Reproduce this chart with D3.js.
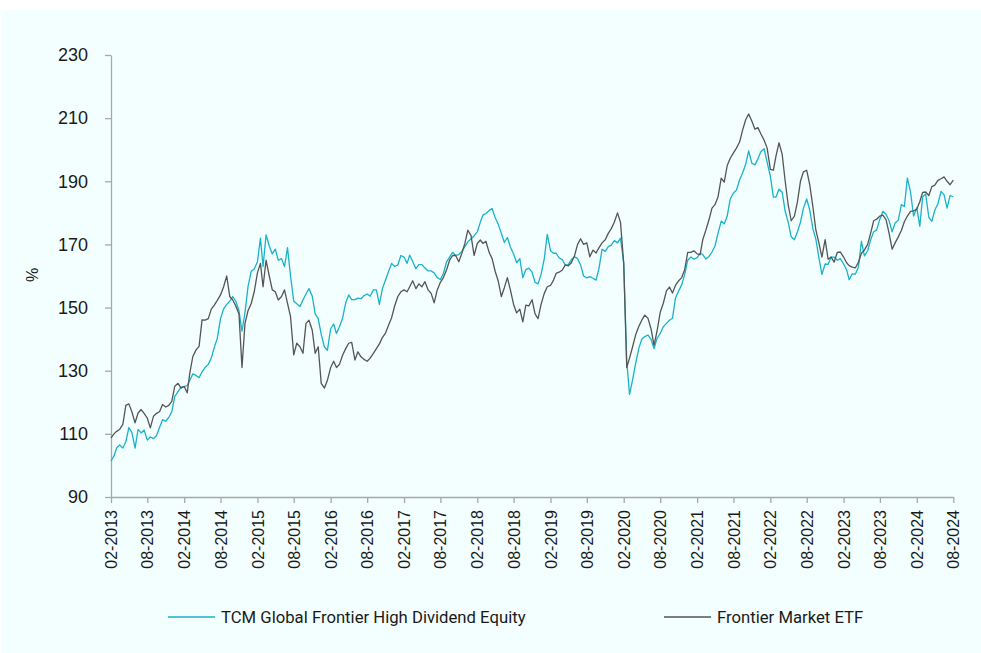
<!DOCTYPE html>
<html>
<head>
  <meta charset="utf-8" />
  <title>TCM vs Frontier Market ETF</title>
  <script type="text/javascript" src="https://cdn.jsdelivr.net/npm/d3@7"></script>
  <style type="text/css">
  body {
    margin: 0;
    background: #fff;
  }

  .axis path,
  .axis line {
    stroke: #a8a8a8;
    stroke-width: 1.3px;
  }

  .axis text {
    fill: #1a1a1a;
    font-family: "Liberation Sans", Arial, sans-serif;
  }

  .legend text {
    fill: #1a1a1a;
    font-family: Roboto, "Noto Sans", sans-serif;
    font-size: 16.7px;
  }
  </style>
</head>
<body>
  <script type="text/javascript">
    // half-month readings, 02-2013 .. 08-2024
    var tcmValues = [
      101.4,103,105.5,106.5,105.5,107.5,112,110.5,105.5,111.4,110.3,111.2,
      108,109,108.5,109.5,112,114.5,114,115.2,117,121.9,123.4,124.8,
      125,125.3,127,129,128.5,127.8,129.6,131,132,134,137.4,140.3,
      146.5,149.5,151,152,153.5,152,149,142.5,148.5,156.6,161.5,162.2,
      164.5,172,163,173,169.5,167,168.5,165,165.5,163,169,160,
      152,151.2,150.3,152.4,154.3,156,153.7,148,146.5,141.5,137.5,136.5,
      143.3,144.8,141.8,143.9,146.8,151.5,154,152.5,152.5,153,152.8,153.8,
      154.3,153.6,155.6,155.6,151,156,158.8,161.5,164,163,163.5,166.5,
      166,164,166.6,164.6,162.3,163.6,163.6,162.5,161.6,161.6,161,159.5,
      158.9,160.8,164.5,166,167.5,166.5,166.8,167.8,169.3,170.8,171.8,172.7,
      174,177,179.3,179.8,180.7,181.4,178.5,176.5,173.5,170.6,172.2,169.2,
      167,164.2,165.5,159.5,162,162.5,161.2,158,157.5,160.5,165.5,173.2,
      168,167.2,167.2,165.7,165.2,163.4,163.6,165.2,166.1,165.5,163.5,160,
      159.4,159.8,159.3,158.7,162.5,168.5,167.8,169.3,169.8,171.2,170.5,172,
      164,133,122.5,127,132.5,137,140,140.8,141.3,140,137,140.2,
      141.8,143.9,145,146,146.6,153,155.3,157.2,160.5,165,166,165.3,
      165.8,167.2,166.8,165.4,166.2,167.6,169.5,173.5,177.4,176.5,179,184.4,
      186.3,187.2,190.5,192.7,195.4,199.6,195.7,195.2,197.1,199.4,200.3,196,
      191.6,185,185,187.5,186.5,180.5,177,172.4,171.5,174,177,181.5,
      184.4,181,175,171.6,165.8,160.5,163.8,163.7,166,166,165,165.5,
      163.8,162,158.8,160.7,160.6,162.8,171,166.4,168,171.5,174,174.6,
      178,180.5,179.5,177.5,174,176.8,177.7,182.6,182,191,186.5,179,
      181.6,175.8,185,186,178.6,177.3,180.9,182.8,186.8,185.7,181.5,185.5,
      185.1
    ]

    var etfValues = [
      108.7,110,110.8,111.4,113,119,119.5,117,113.5,116.6,117.7,116.5,
      115,111.9,115.6,116.5,117,119.3,118.5,119,120.3,125.1,126,124.5,
      125,123,129.3,134.5,136.6,137.7,146.1,146,146.5,149.5,150.8,152.3,
      154,156.5,160,153.5,152.4,150.5,148,131,145,149,151.3,155,
      161,164,156.6,165,160,155.6,155,152.4,153.5,155.6,151.3,147.1,
      135,138.7,137.6,135.5,145,146,142.9,135.5,137.6,126,124.5,127,
      131,133,131,132,135,137,138.7,139,133.4,136,134.4,133.6,
      133,134,135.5,137,138.5,140.5,142,144.5,146.8,150.5,153.5,155,
      155.6,155,156.6,158.5,156,157.5,156.6,158.2,155.6,154.5,151.5,155.5,
      158,159.5,162,165,166.5,166.5,164.5,167.2,170.3,174.5,172.8,166.5,
      170.3,171.4,170.3,171,167.5,165.5,161.5,158.5,153.5,156.3,159.5,155.6,
      151,148.3,149.5,145.5,150.8,150.5,152.5,148,146.5,151,154.5,156.6,
      157,158.7,160.8,161.2,161.9,163.5,163.2,164.2,166.5,170,171.8,170,
      170.5,166.1,168.2,167.3,169,170.5,171.5,173.5,175,177,180,177,
      164,131,134,137.5,141.5,144,146,147.6,146.6,143.3,138,142.5,
      148.5,151.3,155.3,156.5,154.6,157,158.5,159.5,162,167.5,167.5,168,
      167,166.8,171.5,174.4,177.8,181.5,182.6,185,191,189.7,195,197.3,
      199,200.5,202.5,206.3,209.5,211.3,209,206.5,207,205,203,200.5,
      193.8,193.5,198,202.2,198.5,190,182.5,177.5,179,183.5,190,193,
      193.5,189,182,174.5,170.5,166,171.5,165.3,166,164.4,167.5,167.6,
      166,164.2,163.3,162.8,162.6,164.3,167.2,168.2,170,173.6,177.5,178,
      179,179.3,177.8,173.5,168.5,170.5,172.4,174.4,177.2,179,180.5,180.6,
      181.2,183.5,186.5,186.6,185.5,188.3,188.8,190.3,190.8,191.4,190,188.9,
      190.4
    ]

    var seriesNames = ['TCM Global Frontier High Dividend Equity', 'Frontier Market ETF']
    var seriesColors = ['#1ab1c9', '#555555']
    var yTicks = [90, 110, 130, 150, 170, 190, 210, 230]

    var w = 981,
        h = 653,
        start = new Date(Date.UTC(2013, 1, 1)),
        end = new Date(Date.UTC(2024, 7, 1))

    // one date per reading: 1st and 16th of each month
    function dateAt(i) {
      return d3.utcDay.offset(d3.utcMonth.offset(start, Math.floor(i / 2)), i % 2 ? 15 : 0)
    }

    var x = d3.scaleUtc().domain([start, end]).range([111, 953.3]),
        y = d3.scaleLinear().domain([90, 230]).range([497, 55])

    var svg = d3.select(document.body)
      .append('svg')
      .attr('width', w)
      .attr('height', h)

    svg.append('rect')
      .attr('x', 2)
      .attr('y', 10)
      .attr('width', w - 2)
      .attr('height', h - 10)
      .attr('fill', '#f2fffe')

    // axes
    svg.append('g')
      .attr('class', 'axis')
      .attr('transform', 'translate(0,497)')
      .call(d3.axisBottom(x)
        .tickValues(d3.utcMonth.range(start, d3.utcDay.offset(end, 1), 6))
        .tickFormat(d3.utcFormat('%m-%Y'))
        .tickSize(6)
        .tickSizeOuter(0))
      .selectAll('text')
        .attr('transform', 'rotate(-90)')
        .attr('x', -13)
        .attr('y', 0)
        .attr('dy', '0.35em')
        .style('text-anchor', 'end')
        .style('font-size', '16px')

    svg.append('g')
      .attr('class', 'axis')
      .attr('transform', 'translate(111,0)')
      .call(d3.axisLeft(y)
        .tickValues(yTicks)
        .tickSize(6)
        .tickSizeOuter(0)
        .tickPadding(17))
      .selectAll('text')
        .style('font-size', '18px')

    svg.append('text')
      .attr('transform', 'translate(38,275) rotate(-90)')
      .attr('text-anchor', 'middle')
      .style('font-family', '"Liberation Sans", Arial, sans-serif')
      .style('font-size', '16px')
      .style('fill', '#1a1a1a')
      .text('%')

    // lines
    var line = d3.line()
      .x(function(d, i) { return x(dateAt(i)) })
      .y(function(d) { return y(d) })

    ;[tcmValues, etfValues].forEach(function(vals, k) {
      svg.append('path')
        .datum(vals)
        .attr('fill', 'none')
        .attr('stroke', seriesColors[k])
        .attr('stroke-width', 1.3)
        .attr('stroke-linejoin', 'round')
        .attr('d', line)
    })

    // legend
    var legendX = [168, 664]
    var legend = svg.append('g').attr('class', 'legend')
    seriesNames.forEach(function(name, k) {
      legend.append('line')
        .attr('x1', legendX[k])
        .attr('x2', legendX[k] + 47)
        .attr('y1', 617)
        .attr('y2', 617)
        .attr('stroke', seriesColors[k])
        .attr('stroke-width', 1.5)
      legend.append('text')
        .attr('x', legendX[k] + 53)
        .attr('y', 617)
        .attr('dy', '0.35em')
        .text(name)
    })
  </script>
</body>
</html>
